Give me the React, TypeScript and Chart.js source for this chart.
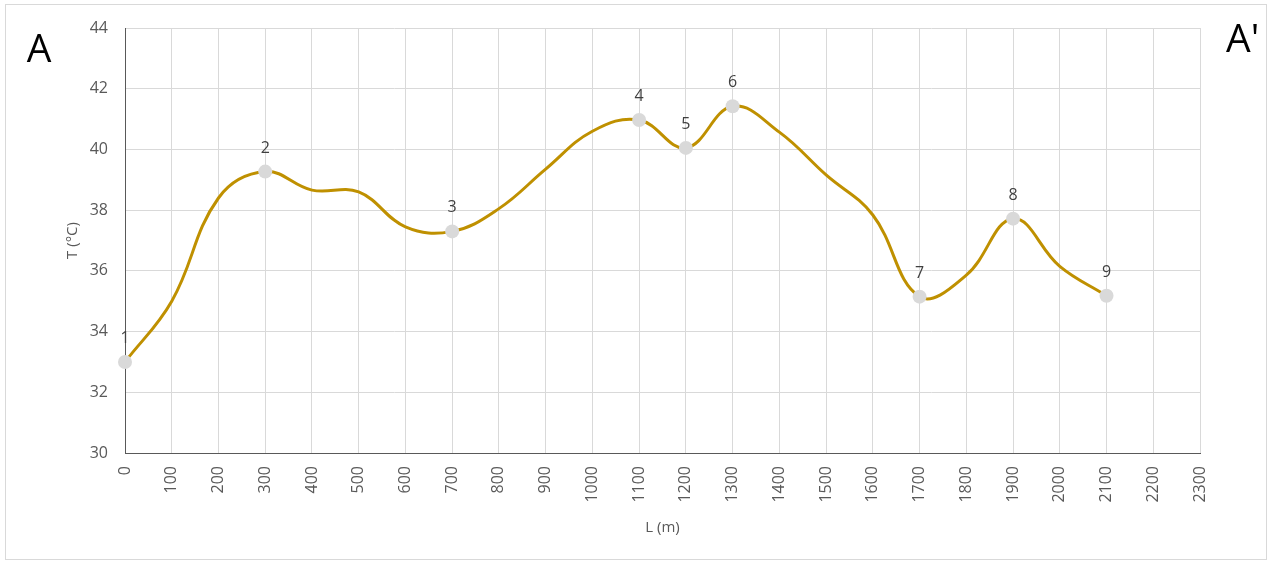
import React, { useEffect, useRef } from 'react';
import { Chart, registerables } from 'chart.js';

Chart.register(...registerables);

const distances = [0, 100, 200, 300, 400, 500, 600, 700, 800, 900, 1000, 1100, 1200, 1300, 1400, 1500, 1600, 1700, 1800, 1900, 2000, 2100];
const temperatures = [33.0, 35.0, 38.4, 39.27, 38.66, 38.6, 37.45, 37.3, 38.05, 39.35, 40.6, 40.97, 40.05, 41.42, 40.57, 39.16, 37.84, 35.15, 35.86, 37.72, 36.15, 35.18];
const pointLabels = ['1', '', '', '2', '', '', '', '3', '', '', '', '4', '5', '6', '', '', '', '7', '', '8', '', '9'];
const xTitle = 'L (m)';
const yTitle = 'T (°C)';
const sectionStart = 'A';
const sectionEnd = "A'";

const FONT = '"Open Sans", "Noto Sans", sans-serif';

export default function App() {
  const ref = useRef<HTMLCanvasElement | null>(null);

  useEffect(() => {
    if (!ref.current) return;
    const decor = {
      id: 'decor',
      afterDraw(chart: any) {
        const ctx = chart.ctx;
        const meta = chart.getDatasetMeta(0);
        ctx.save();
        ctx.fillStyle = '#404040';
        ctx.font = `16px ${FONT}`;
        ctx.textAlign = 'center';
        ctx.textBaseline = 'alphabetic';
        meta.data.forEach((pt: any, i: number) => {
          const lbl = pointLabels[i];
          if (lbl) ctx.fillText(lbl, pt.x, pt.y - 19);
        });
        ctx.strokeStyle = '#d9d9d9';
        ctx.lineWidth = 1;
        ctx.strokeRect(5.5, 4.5, 1261, 555);
        ctx.fillStyle = '#000000';
        ctx.font = `39px ${FONT}`;
        ctx.textAlign = 'center';
        ctx.fillText(sectionStart, 39, 62);
        ctx.textAlign = 'left';
        ctx.fillText(sectionEnd, 1226, 52);
        ctx.restore();
      },
    };

    const chart = new Chart(ref.current, {
      type: 'line',
      data: {
        datasets: [
          {
            data: distances.map((d, i) => ({ x: d, y: temperatures[i] })),
            borderColor: '#BF9000',
            borderWidth: 3,
            tension: 0.4,
            clip: false,
            pointRadius: pointLabels.map((l) => (l ? 7 : 0)),
            pointBackgroundColor: '#d9d9d9',
            pointBorderColor: '#d9d9d9',
            pointBorderWidth: 0,
            fill: false,
          },
        ],
      },
      options: {
        responsive: false,
        animation: false,
        layout: { padding: { left: 0, top: 28, right: 71, bottom: 0 } },
        plugins: { legend: { display: false }, tooltip: { enabled: false } },
        scales: {
          x: {
            type: 'linear',
            min: 0,
            max: 2300,
            afterFit: (s: any) => {
              s.height = 110;
            },
            ticks: {
              stepSize: 100,
              minRotation: 90,
              maxRotation: 90,
              padding: 13,
              color: '#595959',
              font: { family: FONT, size: 16 },
              callback: (v: any) => String(v),
            },
            grid: { color: '#d9d9d9', drawTicks: false },
            border: { color: '#595959', width: 1 },
            title: {
              display: true,
              text: xTitle,
              color: '#595959',
              font: { family: FONT, size: 15 },
              padding: { top: 0, bottom: 26 },
            },
          },
          y: {
            min: 30,
            max: 44,
            afterFit: (s: any) => {
              s.width = 125;
            },
            ticks: {
              stepSize: 2,
              padding: 17,
              color: '#595959',
              font: { family: FONT, size: 16 },
              callback: (v: any) => String(v),
            },
            grid: { color: '#d9d9d9', drawTicks: false },
            border: { color: '#595959', width: 1 },
            title: {
              display: true,
              text: yTitle,
              color: '#595959',
              font: { family: FONT, size: 15 },
              padding: { top: 64, bottom: 0 },
            },
          },
        },
      },
      plugins: [decor],
    } as any);
    return () => chart.destroy();
  }, []);

  return (
    <div style={{ position: 'absolute', left: 0, top: 0, width: 1271, height: 563, background: '#fff' }}>
      <canvas ref={ref} width={1271} height={563} />
    </div>
  );
}
